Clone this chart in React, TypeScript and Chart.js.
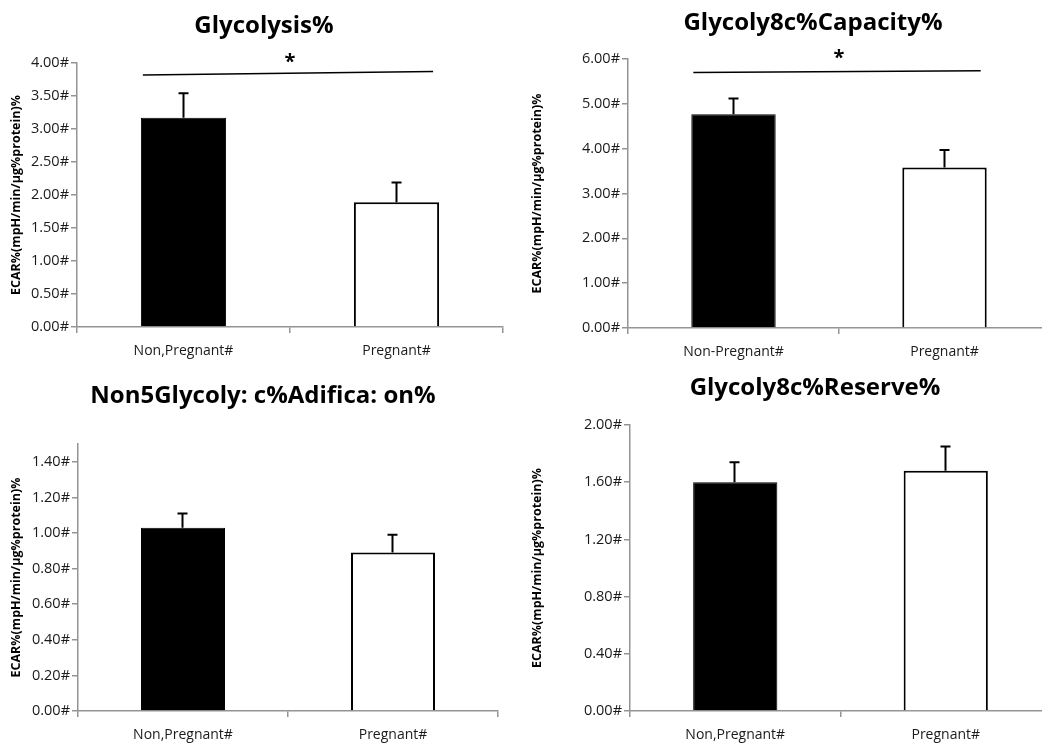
import React, { useEffect, useRef } from 'react';
import { Chart, registerables } from 'chart.js';

Chart.register(...registerables);

// ---- data ----
const categoriesA = ['Non,Pregnant#', 'Pregnant#'];
const categoriesB = ['Non-Pregnant#', 'Pregnant#'];

const glycolysisMeans = [3.17, 1.89];
const glycolysisErrors = [0.37, 0.3];
const capacityMeans = [4.77, 3.58];
const capacityErrors = [0.35, 0.39];
const acidificationMeans = [1.03, 0.89];
const acidificationErrors = [0.08, 0.1];
const reserveMeans = [1.6, 1.68];
const reserveErrors = [0.14, 0.17];

const glycolysisTicks = [0, 0.5, 1, 1.5, 2, 2.5, 3, 3.5, 4];
const capacityTicks = [0, 1, 2, 3, 4, 5, 6];
const acidificationTicks = [0, 0.2, 0.4, 0.6, 0.8, 1.0, 1.2, 1.4];
const reserveTicks = [0, 0.4, 0.8, 1.2, 1.6, 2.0];

// significance bracket (left value, right value) and star value
const glycolysisSig = [3.82, 3.87, 4.08];
const capacitySig = [5.7, 5.74, 6.13];

const yAxisTitle = 'ECAR%(mpH/min/µg%protein)%';
const titles = ['Glycolysis%', 'Glycoly8c%Capacity%', 'Non5Glycoly: c%Adifica: on%', 'Glycoly8c%Reserve%'];

const AXIS = '#949494';
const FONT = '"Open Sans", "DejaVu Sans", sans-serif';

type PanelCfg = {
  labels: string[];
  means: number[];
  errors: number[];
  ticks: number[];
  max: number;
  sig?: number[];
  title: string;
  // layout
  x: number; y: number; w: number; h: number;
  left: number; top: number; right: number; bottom: number; xH: number;
  titleX: number; titleY: number;
};

const panels: PanelCfg[] = [
  {
    labels: categoriesA, means: glycolysisMeans, errors: glycolysisErrors, ticks: glycolysisTicks, max: 4, sig: glycolysisSig, title: titles[0],
    x: 0, y: 0, w: 521, h: 372, left: 77, top: 63, right: 18, bottom: 5, xH: 40, titleX: 264, titleY: 33,
  },
  {
    labels: categoriesB, means: capacityMeans, errors: capacityErrors, ticks: capacityTicks, max: 6, sig: capacitySig, title: titles[1],
    x: 521, y: 0, w: 540, h: 372, left: 107, top: 59, right: 11, bottom: 4, xH: 40, titleX: 292, titleY: 30,
  },
  {
    labels: categoriesA, means: acidificationMeans, errors: acidificationErrors, ticks: acidificationTicks, max: 1.5, title: titles[2],
    x: 0, y: 372, w: 521, h: 373, left: 78, top: 72, right: 23, bottom: 0, xH: 34, titleX: 263, titleY: 31,
  },
  {
    labels: categoriesA, means: reserveMeans, errors: reserveErrors, ticks: reserveTicks, max: 2, title: titles[3],
    x: 521, y: 372, w: 540, h: 373, left: 109, top: 53, right: 10, bottom: 0, xH: 34, titleX: 294, titleY: 23,
  },
];

function Panel({ cfg }: { cfg: PanelCfg }) {
  const ref = useRef<HTMLCanvasElement>(null);
  useEffect(() => {
    const overlay = {
      id: 'overlay',
      afterDatasetsDraw(chart: any) {
        const ctx = chart.ctx as CanvasRenderingContext2D;
        const ys = chart.scales.y;
        const meta = chart.getDatasetMeta(0);
        ctx.save();
        // error bars
        ctx.strokeStyle = '#000';
        ctx.lineWidth = 2;
        meta.data.forEach((bar: any, i: number) => {
          const x = Math.round(bar.x) - 0.5;
          const y0 = ys.getPixelForValue(cfg.means[i]);
          const y1 = ys.getPixelForValue(cfg.means[i] + cfg.errors[i]);
          ctx.beginPath();
          ctx.moveTo(x, y0);
          ctx.lineTo(x, y1);
          ctx.moveTo(x - 5, y1);
          ctx.lineTo(x + 5, y1);
          ctx.stroke();
        });
        // significance
        if (cfg.sig) {
          const b0: any = meta.data[0];
          const b1: any = meta.data[1];
          const xl = b0.x - b0.width / 2 + 2;
          const xr = b1.x + b1.width / 2 - 6;
          ctx.lineWidth = 1.5;
          ctx.beginPath();
          ctx.moveTo(xl, ys.getPixelForValue(cfg.sig[0]));
          ctx.lineTo(xr, ys.getPixelForValue(cfg.sig[1]));
          ctx.stroke();
          ctx.fillStyle = '#000';
          ctx.font = `bold 20px ${FONT}`;
          ctx.textAlign = 'center';
          ctx.textBaseline = 'middle';
          const xm = (chart.chartArea.left + chart.chartArea.right) / 2;
          ctx.fillText('*', xm, ys.getPixelForValue(cfg.sig[2]) + 5);
        }
        // title
        ctx.fillStyle = '#000';
        ctx.font = `bold 24px ${FONT}`;
        ctx.textAlign = 'center';
        ctx.textBaseline = 'alphabetic';
        ctx.fillText(cfg.title, cfg.titleX, cfg.titleY);
        ctx.restore();
      },
    };

    const chart = new Chart(ref.current as HTMLCanvasElement, {
      type: 'bar',
      data: {
        labels: cfg.labels,
        datasets: [
          {
            data: cfg.means,
            backgroundColor: ['#000000', '#ffffff'],
            borderColor: '#000000',
            borderWidth: [1, 2],
            barPercentage: 0.4,
            categoryPercentage: 1,
          },
        ],
      },
      options: {
        responsive: false,
        animation: false,
        layout: { padding: { left: 0, top: cfg.top, right: cfg.right, bottom: cfg.bottom } },
        plugins: {
          legend: { display: false },
          tooltip: { enabled: false },
          title: { display: false },
        },
        scales: {
          x: {
            offset: true,
            grid: { display: true, drawOnChartArea: false, drawTicks: true, tickLength: 6, color: AXIS, lineWidth: 1.5, offset: true },
            border: { display: true, color: AXIS, width: 1.5 },
            ticks: { font: { family: FONT, size: 14 }, color: '#1a1a1a', padding: 10, maxRotation: 0 },
            afterFit: (s: any) => {
              s.height = cfg.xH;
            },
          },
          y: {
            min: 0,
            max: cfg.max,
            grid: { display: true, drawOnChartArea: false, drawTicks: true, tickLength: 6, color: AXIS, lineWidth: 1.5 },
            border: { display: true, color: AXIS, width: 1.5 },
            ticks: {
              font: { family: FONT, size: 14.5 },
              color: '#1a1a1a',
              padding: 2,
              callback: (v: any) => Number(v).toFixed(2) + '#',
            },
            afterBuildTicks: (s: any) => {
              s.ticks = cfg.ticks.map((v) => ({ value: v }));
            },
            afterFit: (s: any) => {
              s.width = cfg.left;
            },
            title: {
              display: true,
              text: yAxisTitle,
              font: { family: FONT, size: 12.5, weight: 'bold' },
              color: '#000',
              padding: { top: 9, bottom: 0 },
            },
          },
        },
      },
      plugins: [overlay],
    } as any);
    return () => chart.destroy();
  }, [cfg]);
  return (
    <canvas
      ref={ref}
      width={cfg.w}
      height={cfg.h}
      style={{ position: 'absolute', left: cfg.x, top: cfg.y, width: cfg.w, height: cfg.h }}
    />
  );
}

export default function App() {
  return (
    <div
      style={{
        position: 'absolute',
        left: 0,
        top: 0,
        width: 1042,
        height: 745,
        overflow: 'hidden',
        background: '#ffffff',
      }}
    >
      {panels.map((p, i) => (
        <Panel key={i} cfg={p} />
      ))}
    </div>
  );
}
